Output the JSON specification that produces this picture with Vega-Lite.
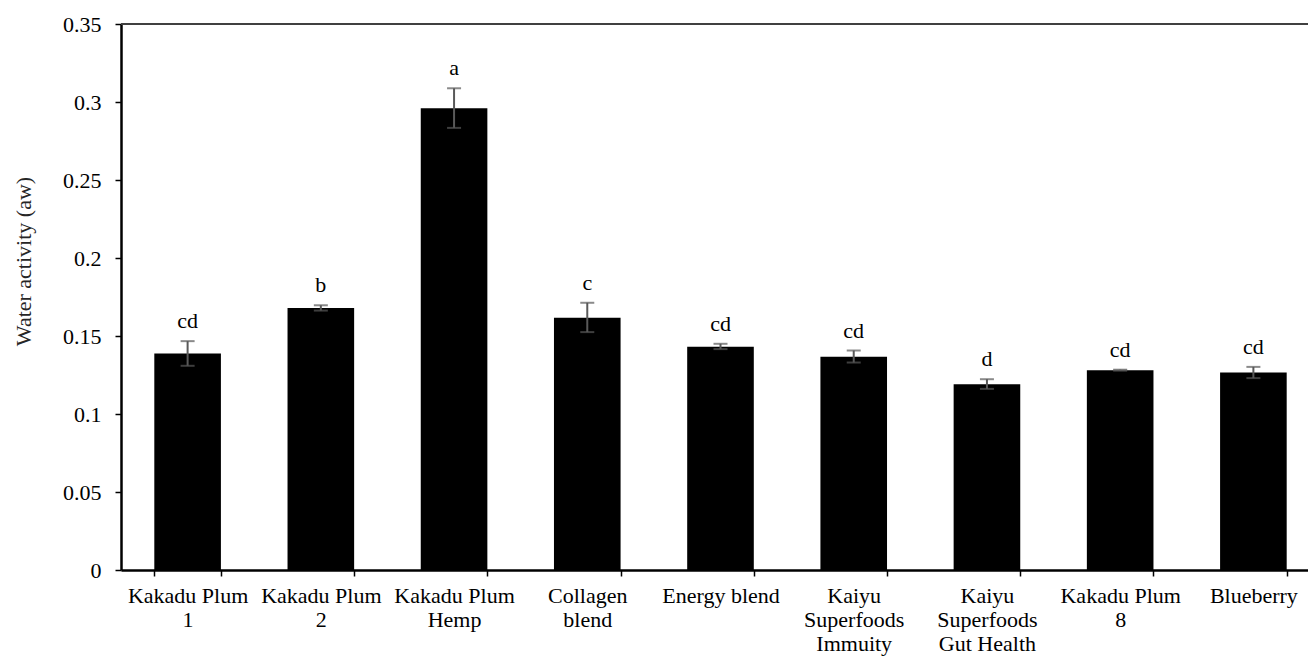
{
  "$schema": "https://vega.github.io/schema/vega-lite/v6.json",
  "width": 1187,
  "height": 546,
  "autosize": {"type": "none"},
  "padding": {"left": 121, "top": 24, "right": 0, "bottom": 87},
  "background": "white",
  "config": {
    "view": {"stroke": null},
    "font": "Liberation Serif",
    "text": {"font": "Liberation Serif"},
    "axis": {"labelFont": "Liberation Serif", "titleFont": "Liberation Serif", "grid": false}
  },
  "data": {
    "values": [
      {"product": "Kakadu Plum\n1", "mean": 0.1388, "lo": 0.1309, "hi": 0.1467, "letter": "cd"},
      {"product": "Kakadu Plum\n2", "mean": 0.168, "lo": 0.1663, "hi": 0.1697, "letter": "b"},
      {"product": "Kakadu Plum\nHemp", "mean": 0.296, "lo": 0.2834, "hi": 0.3088, "letter": "a"},
      {"product": "Collagen\nblend", "mean": 0.1617, "lo": 0.1525, "hi": 0.1713, "letter": "c"},
      {"product": "Energy blend", "mean": 0.1431, "lo": 0.1416, "hi": 0.145, "letter": "cd"},
      {"product": "Kaiyu\nSuperfoods\nImmuity", "mean": 0.1367, "lo": 0.133, "hi": 0.1407, "letter": "cd"},
      {"product": "Kaiyu\nSuperfoods\nGut Health", "mean": 0.1191, "lo": 0.1161, "hi": 0.1223, "letter": "d"},
      {"product": "Kakadu Plum\n8", "mean": 0.1281, "lo": 0.1278, "hi": 0.1284, "letter": "cd"},
      {"product": "Blueberry", "mean": 0.1266, "lo": 0.123, "hi": 0.1302, "letter": "cd"}
    ]
  },
  "encoding": {
    "x": {
      "field": "product",
      "type": "nominal",
      "sort": null,
      "scale": {"range": [0, 1199], "paddingInner": 0.5, "paddingOuter": 0.25},
      "axis": {
        "title": null,
        "labelAngle": 0,
        "labelExpr": "isValid(datum.value) ? split(datum.value, '\\n') : ''",
        "labelFontSize": 22,
        "labelLineHeight": 24,
        "labelColor": "black",
        "labelPadding": 9,
        "labelBaseline": "top",
        "tickBand": "extent",
        "ticks": true,
        "tickSize": 6,
        "tickWidth": 1.5,
        "tickColor": "black",
        "domainColor": "black",
        "domainWidth": 2.5
      }
    }
  },
  "layer": [
    {
      "mark": {"type": "bar", "color": "black"},
      "encoding": {
        "y": {
          "field": "mean",
          "type": "quantitative",
          "scale": {"domain": [0, 0.35], "nice": false, "zero": true},
          "axis": {
            "title": "Water activity (aw)",
            "titleFontSize": 22,
            "titleFontWeight": "normal",
            "titleColor": "#262626",
            "titleAngle": -90,
            "titleAlign": "center",
            "titleBaseline": "middle",
            "titleX": -98,
            "titleY": 237,
            "values": [0, 0.05, 0.1, 0.15, 0.2, 0.25, 0.3, 0.35],
            "format": "~g",
            "labelFontSize": 22,
            "labelColor": "black",
            "labelPadding": 14,
            "tickSize": 6,
            "tickWidth": 1.5,
            "tickColor": "black",
            "domainColor": "black",
            "domainWidth": 2.5
          }
        }
      }
    },
    {
      "mark": {"type": "rule", "color": "#404040", "strokeWidth": 1.5},
      "encoding": {"y": {"datum": 0.35}, "x": null}
    },
    {
      "mark": {"type": "rule", "color": "#595959", "strokeWidth": 2},
      "encoding": {
        "y": {"field": "lo", "type": "quantitative"},
        "y2": {"field": "hi"}
      }
    },
    {
      "mark": {"type": "tick", "color": "#595959", "size": 14, "thickness": 2},
      "encoding": {"y": {"field": "lo", "type": "quantitative"}}
    },
    {
      "mark": {"type": "tick", "color": "#595959", "size": 14, "thickness": 2},
      "encoding": {"y": {"field": "hi", "type": "quantitative"}}
    },
    {
      "mark": {"type": "text", "fontSize": 22, "font": "Liberation Serif", "color": "black", "baseline": "alphabetic", "dy": -13},
      "encoding": {
        "y": {"field": "hi", "type": "quantitative"},
        "text": {"field": "letter"}
      }
    }
  ]
}
